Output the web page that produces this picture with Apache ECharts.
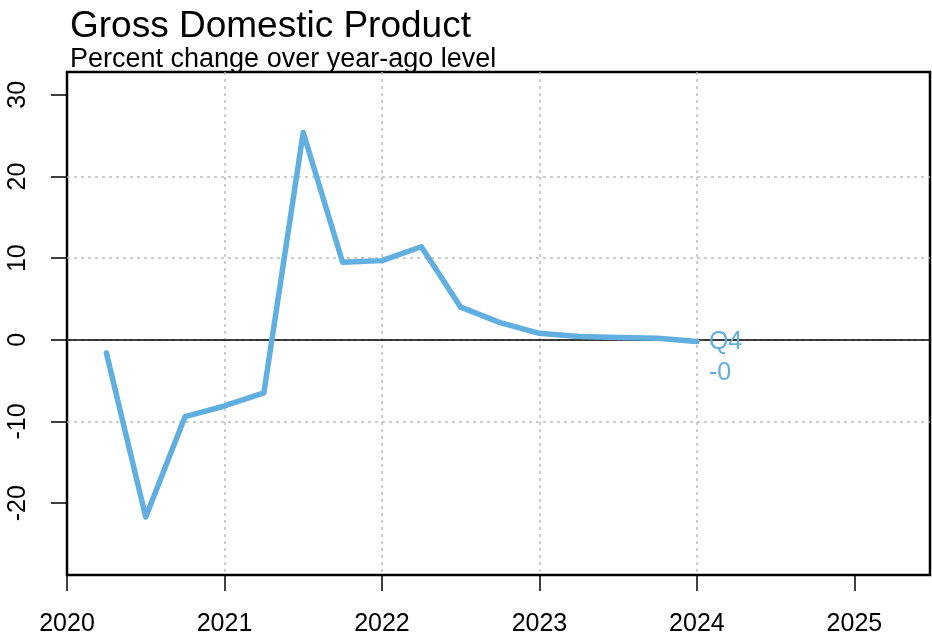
<!DOCTYPE html>
<html><head><meta charset="utf-8">
<script src="https://cdn.jsdelivr.net/npm/echarts@6/dist/echarts.min.js"></script>
<style>html,body{margin:0;padding:0;background:#fff}#c{width:932px;height:637px}</style>
</head><body><div id="c"></div>
<script>
const quarters = [2020.25,2020.5,2020.75,2021.0,2021.25,2021.5,2021.75,2022.0,2022.25,2022.5,2022.75,2023.0,2023.25,2023.5,2023.75,2024.0];
const gdpChange = [-1.6,-21.7,-9.4,-8.1,-6.5,25.4,9.5,9.7,11.4,4.0,2.1,0.8,0.4,0.3,0.2,-0.2];
const yTicks = [-20,-10,0,10,20,30];
const xTicks = [2020,2021,2022,2023,2024,2025];
const lastLabel = ['Q4','-0'];
const titleText = 'Gross Domestic Product';
const subtitleText = 'Percent change over year-ago level';

const blue = '#61AEE1';
const font = 'Liberation Sans, Arial, Helvetica, sans-serif';
const data = quarters.map((q,i)=>[q,gdpChange[i]]);

const chart = echarts.init(document.getElementById('c'), null, {renderer:'canvas'});
chart.setOption({
  animation:false,
  backgroundColor:'#fff',
  title:{
    text:titleText, subtext:subtitleText, left:65, top:3, itemGap:1,
    textStyle:{fontFamily:font, fontSize:37, fontWeight:'normal', color:'#000'},
    subtextStyle:{fontFamily:font, fontSize:27, color:'#000'}
  },
  grid:{left:67, right:2, top:72, bottom:61, show:true, borderColor:'#000', borderWidth:2.5, backgroundColor:'transparent'},
  xAxis:{
    type:'value', min:2020, max:2025.48,
    axisLine:{show:false, onZero:false},
    axisTick:{show:true, inside:false, length:16, lineStyle:{color:'#000', width:1.5}, customValues:xTicks},
    axisLabel:{customValues:xTicks, margin:37, fontSize:25, fontFamily:font, color:'#000', formatter:v=>String(Math.round(v))},
    splitLine:{show:true, showMinLine:false, showMaxLine:false, lineStyle:{color:'#bdbdbd', type:[3,4], width:1.5}}
  },
  yAxis:{
    type:'value', min:-28.8, max:32.8,
    axisLine:{show:false, onZero:false},
    axisTick:{show:true, inside:false, length:16, lineStyle:{color:'#000', width:1.5}, customValues:yTicks},
    axisLabel:{customValues:yTicks, rotate:90, margin:36, fontSize:25, fontFamily:font, color:'#000'},
    splitLine:{show:true, showMinLine:false, showMaxLine:false, lineStyle:{color:'#bdbdbd', type:[3,4], width:1.5}}
  },
  series:[{
    type:'line', data:data, showSymbol:false, symbol:'none',
    lineStyle:{color:blue, width:5.5, cap:'round', join:'round'},
    itemStyle:{color:blue},
    z:3,
    endLabel:{show:true, formatter:lastLabel.join('\n'), distance:12, offset:[0,16], color:blue, fontSize:25, lineHeight:31, fontFamily:font},
    markLine:{silent:true, symbol:'none', label:{show:false},
      lineStyle:{color:'#000', type:'solid', width:1.5},
      data:[{yAxis:0}], z:2}
  }]
});
</script></body></html>
